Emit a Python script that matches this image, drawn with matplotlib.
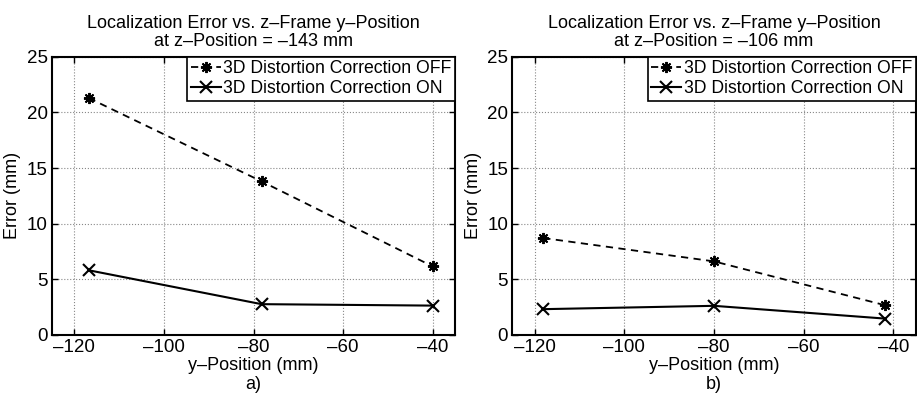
import matplotlib
matplotlib.use("Agg")
import matplotlib.pyplot as plt

plt.rcParams['font.family'] = ['Liberation Sans', 'DejaVu Sans']

# Data
ypos_a = [-116.8, -78.2, -40.0]
off_a = [21.3, 13.8, 6.15]
on_a = [5.8, 2.75, 2.62]

ypos_b = [-118.1, -80.0, -41.8]
off_b = [8.7, 6.6, 2.65]
on_b = [2.3, 2.6, 1.45]

titles = ["Localization Error vs. z\u2013Frame y\u2013Position\nat z\u2013Position = \u2013143 mm",
          "Localization Error vs. z\u2013Frame y\u2013Position\nat z\u2013Position = \u2013106 mm"]
sublabels = ["a)", "b)"]
xticks = [-120, -100, -80, -60, -40]
yticks = [0, 5, 10, 15, 20, 25]

fig = plt.figure(figsize=(9.17, 3.98), dpi=100)
positions = [[0.0567, 0.159, 0.4395, 0.698], [0.5587, 0.159, 0.4399, 0.698]]
datasets = [(ypos_a, off_a, on_a), (ypos_b, off_b, on_b)]
asterisk = (8, 2, 0)

for pos, (xs, off, on), title, sub in zip(positions, datasets, titles, sublabels):
    ax = fig.add_axes(pos)
    ax.plot(xs, off, linestyle=(0, (4, 3)), color='black', marker=asterisk, markersize=8,
            markeredgewidth=1.4, linewidth=1.3, label='3D Distortion Correction OFF')
    ax.plot(xs, on, linestyle='-', color='black', marker='x', markersize=8,
            markeredgewidth=1.5, linewidth=1.5, label='3D Distortion Correction ON')
    ax.set_xlim(-125, -35)
    ax.set_ylim(0, 25)
    ax.set_xticks(xticks)
    ax.set_yticks(yticks)
    ax.set_xticklabels([f"\u2013{abs(v)}" for v in xticks])
    ax.grid(True, linestyle=':', color='#888888', linewidth=0.8)
    ax.tick_params(direction='in', top=True, right=True, labelsize=13.5, length=4, width=1, pad=3)
    for s in ax.spines.values():
        s.set_linewidth(1.5)
    ax.set_title(title, fontsize=13, pad=8, linespacing=1.1)
    ax.set_xlabel("y\u2013Position (mm)\n" + sub, fontsize=13, labelpad=1, linespacing=1.1)
    ax.set_ylabel("Error (mm)", fontsize=13, labelpad=4)
    leg = ax.legend(loc='upper right', fontsize=12.7, handlelength=1.7, handletextpad=0.15,
                    borderpad=0.2, labelspacing=0.15, borderaxespad=0.0, fancybox=False,
                    framealpha=1, edgecolor='black')
    leg.get_frame().set_linewidth(1.2)

fig.savefig("out.png", dpi=100)
